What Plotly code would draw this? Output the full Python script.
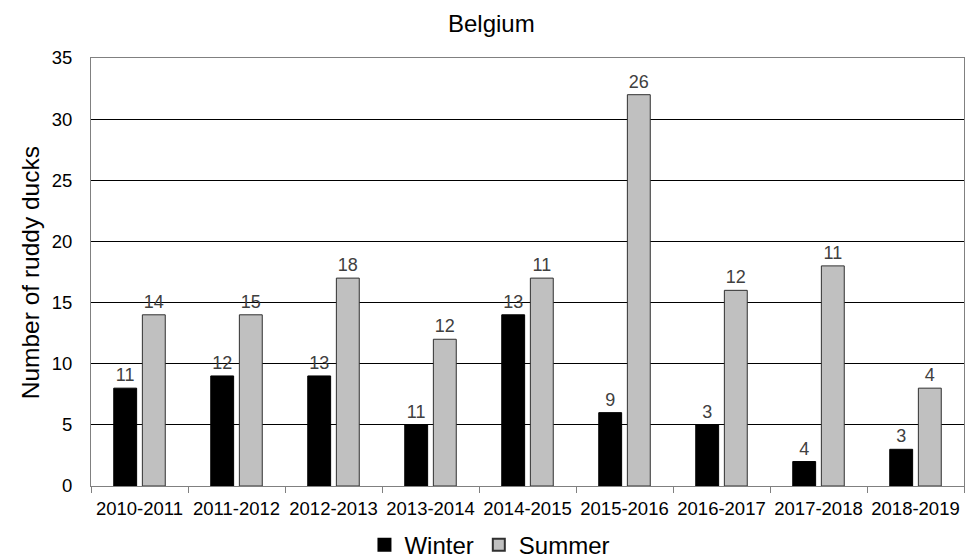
import plotly.graph_objects as go

# Seasons and ruddy duck counts (bars) with the labels printed above each bar
seasons = ["2010-2011", "2011-2012", "2012-2013", "2013-2014", "2014-2015",
           "2015-2016", "2016-2017", "2017-2018", "2018-2019"]
winter_counts = [8, 9, 9, 5, 14, 6, 5, 2, 3]
summer_counts = [14, 14, 17, 12, 17, 32, 16, 18, 8]
winter_labels = [11, 12, 13, 11, 13, 9, 3, 4, 3]
summer_labels = [14, 15, 18, 12, 11, 26, 12, 11, 4]

FONT = "Liberation Sans, Arial, sans-serif"

fig = go.Figure()
fig.add_trace(go.Bar(
    name="Winter", x=seasons, y=winter_counts,
    text=[str(v) for v in winter_labels], textposition="outside",
    textfont=dict(size=18, color="#404040", family=FONT),
    marker=dict(color="#000000", line=dict(color="#000000", width=1)),
    cliponaxis=False,
))
fig.add_trace(go.Bar(
    name="Summer", x=seasons, y=summer_counts,
    text=[str(v) for v in summer_labels], textposition="outside",
    textfont=dict(size=18, color="#404040", family=FONT),
    marker=dict(color="#c0c0c0", line=dict(color="#303030", width=1)),
    cliponaxis=False,
))

fig.update_layout(
    width=965, height=559,
    margin=dict(l=91, r=1, t=58, b=73, autoexpand=False),
    paper_bgcolor="white", plot_bgcolor="white",
    font=dict(family=FONT, color="#000000"),
    barmode="group", bargap=0.41, bargroupgap=0.2,
    showlegend=True,
    legend=dict(orientation="h", x=0.457, xanchor="center", y=-0.138, yanchor="middle",
                font=dict(size=24, family=FONT), itemsizing="constant",
                traceorder="normal"),
    annotations=[
        dict(text="Belgium", xref="paper", yref="paper", x=0.459, y=1.0 + 34 / 428,
             xanchor="center", yanchor="middle", showarrow=False,
             font=dict(size=24, family=FONT, color="#000000")),
        dict(text="Number of ruddy ducks", xref="paper", yref="paper",
             x=-61 / 873, y=0.497, xanchor="center", yanchor="middle",
             textangle=-90, showarrow=False,
             font=dict(size=24.5, family=FONT, color="#000000")),
    ],
)

fig.update_xaxes(
    type="category", showline=True, mirror=True, linecolor="#808080", linewidth=1,
    ticks="outside", tickson="boundaries", ticklen=6, tickcolor="#808080",
    ticklabelstandoff=6, tickangle=0,
    tickfont=dict(size=18.5, family=FONT, color="#000000"),
    showgrid=False,
)
fig.update_yaxes(
    range=[0, 35], tickvals=[0, 5, 10, 15, 20, 25, 30, 35],
    showline=True, mirror=True, linecolor="#808080", linewidth=1,
    showgrid=True, gridcolor="#000000", gridwidth=1,
    ticks="", ticklabelstandoff=14,
    tickfont=dict(size=18.5, family=FONT, color="#000000"),
    zeroline=False,
)

fig.write_html("out.html")
